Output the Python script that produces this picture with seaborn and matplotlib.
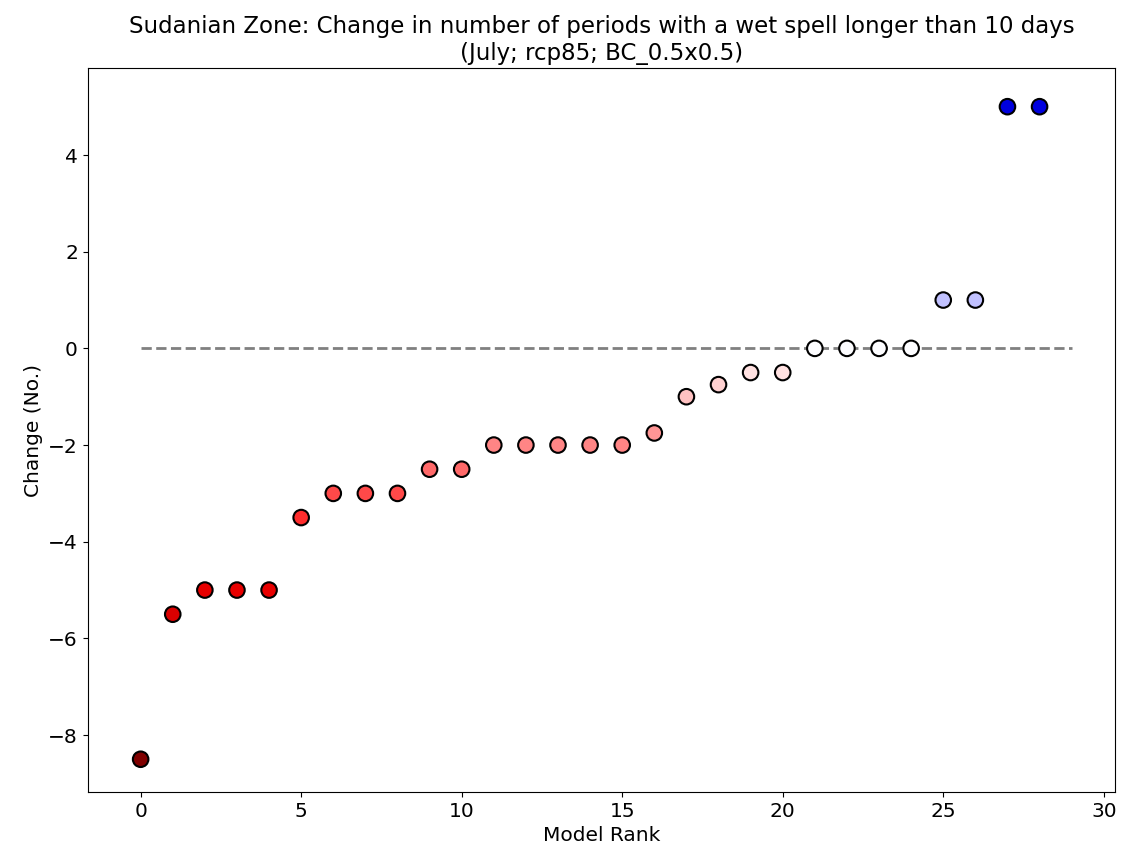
import numpy as np
import pandas as pd
import seaborn as sns
import matplotlib
matplotlib.use("Agg")
import matplotlib.pyplot as plt

# Model rank and change in number of wet-spell periods (> 10 days)
rank = list(range(29))
change = [-8.5, -5.5, -5.0, -5.0, -5.0, -3.5, -3.0, -3.0, -3.0, -2.5,
          -2.5, -2.0, -2.0, -2.0, -2.0, -2.0, -1.75, -1.0, -0.75, -0.5,
          -0.5, 0.0, 0.0, 0.0, 0.0, 1.0, 1.0, 5.0, 5.0]

df = pd.DataFrame({"Model Rank": rank, "Change (No.)": change})
lim = np.abs(df["Change (No.)"]).max()

fig, ax = plt.subplots(figsize=(11.24, 8.61), dpi=100)

# zero reference line
ax.plot([0, 29], [0, 0], color="grey", linestyle="--", linewidth=2, zorder=1)

sns.scatterplot(data=df, x="Model Rank", y="Change (No.)", hue="Change (No.)",
                palette="seismic_r", hue_norm=(-lim, lim), legend=False,
                s=125, edgecolor="black", linewidth=1.5, ax=ax, zorder=2)

ax.set_title("Sudanian Zone: Change in number of periods with a wet spell longer than 10 days\n"
             "(July; rcp85; BC_0.5x0.5)", fontsize=16.5)
ax.set_xlabel("Model Rank", fontsize=14.5)
ax.set_ylabel("Change (No.)", fontsize=14.5)
ax.tick_params(labelsize=14.5)
ax.set_xticks([0, 5, 10, 15, 20, 25, 30])
ax.set_xlim(-1.65, 30.35)
ax.set_ylim(-9.18, 5.8)

plt.subplots_adjust(left=0.078, right=0.992, top=0.921, bottom=0.08)
plt.savefig("out.png", dpi=100)
